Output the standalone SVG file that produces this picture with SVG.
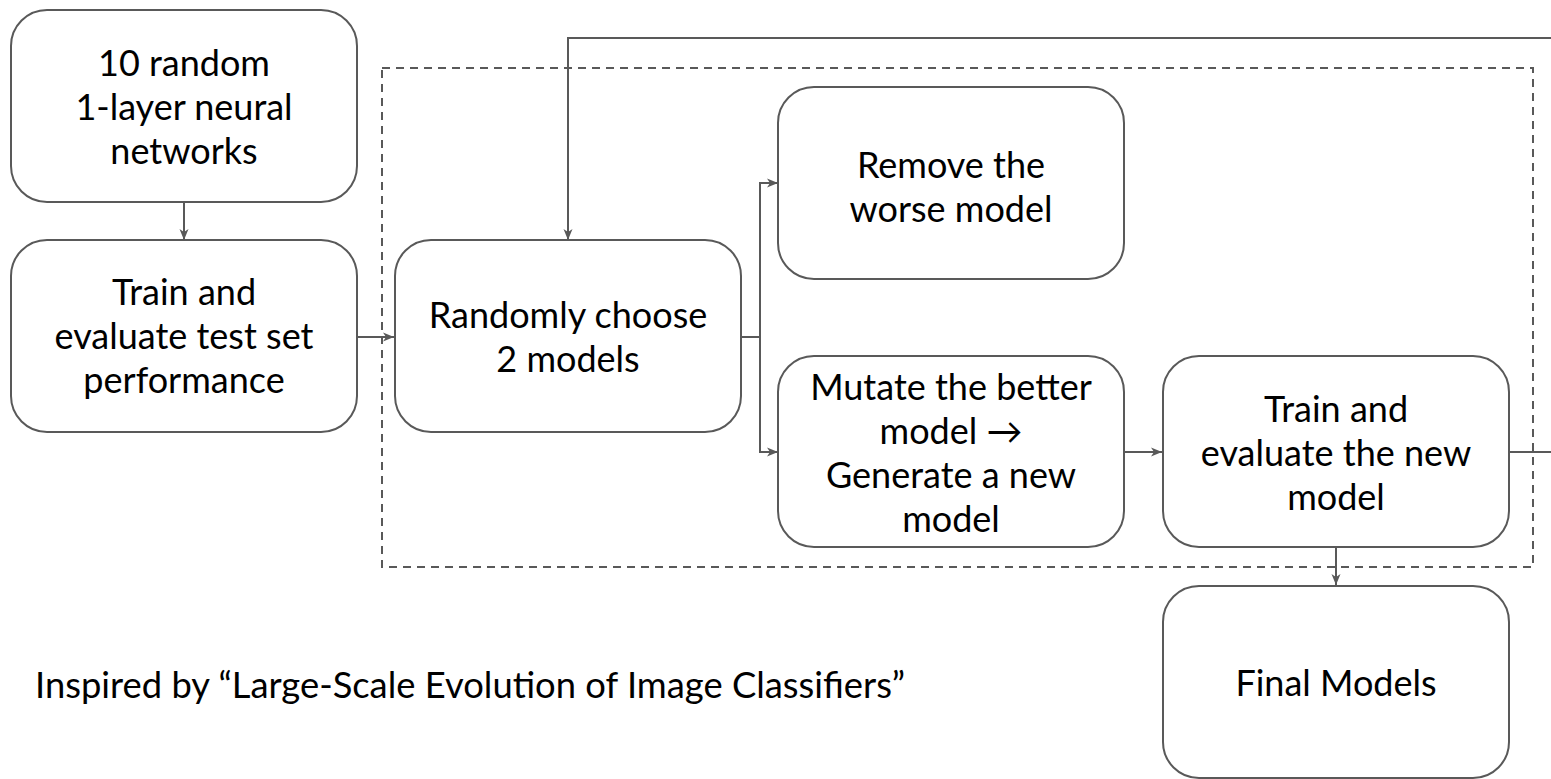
<svg xmlns="http://www.w3.org/2000/svg" width="1551" height="779" viewBox="0 0 1551 779">
<style>
.box{fill:#ffffff;stroke:#595959;stroke-width:2}
.t{font-family:Lato,"Open Sans","Liberation Sans",sans-serif;font-size:36px;fill:#000000;text-anchor:middle}
.cap{font-family:Lato,"Open Sans","Liberation Sans",sans-serif;font-size:36px;fill:#000000}
.c{fill:none;stroke:#595959;stroke-width:2}
.dash{fill:none;stroke:#595959;stroke-width:2;stroke-dasharray:8 6}
</style>
<defs>
<marker id="ah" markerUnits="userSpaceOnUse" markerWidth="12" markerHeight="10" refX="11" refY="5" orient="auto">
<path d="M0,0.5 L11,5 L0,9.5 L3,5 z" fill="#595959"/>
</marker>
</defs>
<rect class="dash" x="382" y="68" width="1151" height="499"/>
<g id="connectors">
<path class="c" d="M184,202 V240" marker-end="url(#ah)"/>
<path class="c" d="M357,337 H394" marker-end="url(#ah)"/>
<path class="c" d="M741,337 H760 V183 H778" marker-end="url(#ah)"/>
<path class="c" d="M760,337 V452 H778" marker-end="url(#ah)"/>
<path class="c" d="M1124,452 H1162" marker-end="url(#ah)"/>
<path class="c" d="M1336,547 V585" marker-end="url(#ah)"/>
<path class="c" d="M1509,452 H1560 V38 H568 V240" marker-end="url(#ah)"/>
</g>
<g id="n-random">
<rect class="box" x="11" y="10" width="346" height="192" rx="36"/>
<text class="t" x="184" y="76">10 random</text>
<text class="t" x="184" y="120">1-layer neural</text>
<text class="t" x="184" y="164">networks</text>
</g>
<g id="n-train-test">
<rect class="box" x="11" y="240" width="346" height="192" rx="36"/>
<text class="t" x="184" y="305">Train and</text>
<text class="t" x="184" y="349">evaluate test set</text>
<text class="t" x="184" y="393">performance</text>
</g>
<g id="n-choose">
<rect class="box" x="395" y="240" width="346" height="192" rx="36"/>
<text class="t" x="568" y="328">Randomly choose</text>
<text class="t" x="568" y="372">2 models</text>
</g>
<g id="n-remove">
<rect class="box" x="778" y="87" width="346" height="192" rx="36"/>
<text class="t" x="951" y="178">Remove the</text>
<text class="t" x="951" y="222">worse model</text>
</g>
<g id="n-mutate">
<rect class="box" x="778" y="356" width="346" height="191" rx="36"/>
<text class="t" x="951" y="400">Mutate the better</text>
<text class="t" x="951" y="444">model →</text>
<text class="t" x="951" y="488">Generate a new</text>
<text class="t" x="951" y="532">model</text>
</g>
<g id="n-train-new">
<rect class="box" x="1163" y="356" width="346" height="191" rx="36"/>
<text class="t" x="1336" y="422">Train and</text>
<text class="t" x="1336" y="466">evaluate the new</text>
<text class="t" x="1336" y="510">model</text>
</g>
<g id="n-final">
<rect class="box" x="1163" y="586" width="346" height="192" rx="36"/>
<text class="t" x="1336" y="696">Final Models</text>
</g>
<text class="cap" x="35" y="698" textLength="870" lengthAdjust="spacingAndGlyphs">Inspired by “Large-Scale Evolution of Image Classifiers”</text>
</svg>
